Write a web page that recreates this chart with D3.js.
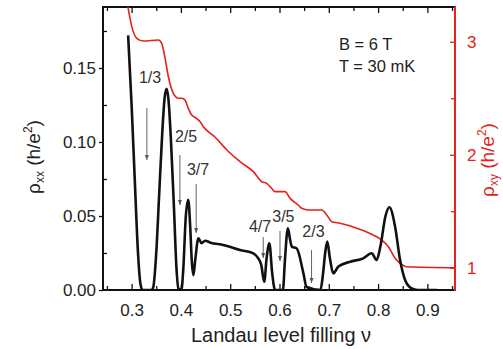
<!DOCTYPE html>
<html lang="en">
<head>
<meta charset="UTF-8">
<title>rho xx and rho xy vs filling</title>
<script src="https://cdn.jsdelivr.net/npm/d3@7"></script>
<style>
  body { margin: 0; background: #fff; }
  svg { display: block; font-family: Arial, "Liberation Sans", sans-serif; }
</style>
</head>
<body>
<script>

var w = 503;
var h = 349;
var margin = {top: 7, right: 48, bottom: 59, left: 103};

// rho_xx (black), filling nu and value in h/e^2
var nuXX = [0.293, 0.300, 0.307, 0.313, 0.318, 0.322, 0.340, 0.344, 0.350, 0.356, 0.362, 0.367, 0.371, 0.375, 0.380, 0.386, 0.391, 0.395, 0.401,
            0.405, 0.410, 0.415, 0.419, 0.422, 0.4254, 0.429, 0.4355, 0.442, 0.449, 0.460, 0.486, 0.520, 0.547, 0.557, 0.563, 0.569,
            0.574, 0.5795, 0.585, 0.591, 0.607, 0.611, 0.617, 0.621, 0.625, 0.635, 0.6485, 0.655, 0.683, 0.688, 0.693, 0.697, 0.702,
            0.709, 0.7195, 0.743, 0.770, 0.787, 0.797, 0.805, 0.815, 0.823, 0.8345, 0.8446, 0.8548, 0.868, 0.880, 0.920];
var rhoXX = [0.172, 0.125, 0.070, 0.025, 0.004, 0.0, 0.0, 0.002, 0.025, 0.065, 0.105, 0.130, 0.136, 0.128, 0.100, 0.055, 0.015, 0.001, 0.0,
             0.015, 0.050, 0.061, 0.042, 0.020, 0.010, 0.020, 0.035, 0.0316, 0.0333, 0.032, 0.0304, 0.027, 0.0248, 0.0214, 0.017, 0.0056,
             0.022, 0.0316, 0.012, 0.0, 0.0, 0.020, 0.0417, 0.035, 0.0293, 0.028, 0.0113, 0.002, 0.0, 0.010, 0.026, 0.0327, 0.022,
             0.0113, 0.0158, 0.0191, 0.0214, 0.0248, 0.0203, 0.030, 0.050, 0.0559, 0.0428, 0.0203, 0.0068, 0.0011, 0.0, 0.0];

// rho_xy (red)
var nuXY = [0.2925, 0.3004, 0.3105, 0.324, 0.3544, 0.361, 0.368, 0.3746, 0.3848, 0.395, 0.402, 0.4085, 0.415, 0.422, 0.4288, 0.439, 0.4456,
            0.469, 0.4937, 0.520, 0.547, 0.564, 0.574, 0.584, 0.591, 0.611, 0.6215, 0.638, 0.645, 0.6586, 0.686, 0.696, 0.706, 0.723,
            0.7568, 0.790, 0.8075, 0.821, 0.8345, 0.8446, 0.858, 0.956];
var rhoXY = [3.31, 3.133, 3.03, 3.006, 3.015, 2.986, 2.853, 2.69, 2.543, 2.50, 2.50, 2.484, 2.41, 2.351, 2.33, 2.292, 2.248,
             2.157, 2.04, 1.938, 1.85, 1.761, 1.747, 1.703, 1.673, 1.673, 1.614, 1.555, 1.526, 1.511, 1.511, 1.466, 1.407, 1.393,
             1.349, 1.289, 1.245, 1.186, 1.083, 1.039, 1.009, 1.0];

var xTicks = [0.3, 0.4, 0.5, 0.6, 0.7, 0.8, 0.9];
var xMinor = [0.25, 0.35, 0.45, 0.55, 0.65, 0.75, 0.85, 0.95];
var yTicks = [0.00, 0.05, 0.10, 0.15];
var yMinor = [0.025, 0.075, 0.125, 0.175];
var y2Ticks = [1, 2, 3];
var y2Minor = [1.5, 2.5];

// fractions: label, arrow nu, arrow top / tip (rho_xx units), label centre nu and baseline
var fracLabels = ["1/3", "2/5", "3/7", "4/7", "3/5", "2/3"];
var fracNu     = [0.331, 0.398, 0.431, 0.567, 0.601, 0.665];
var fracTop    = [0.123, 0.0912, 0.0716, 0.0358, 0.0399, 0.027];
var fracTip    = [0.0879, 0.0574, 0.0385, 0.0216, 0.0196, 0.0047];
var fracLabNu  = [0.3375, 0.4105, 0.4349, 0.5606, 0.6079, 0.6688];
var fracLabY   = [0.1396, 0.1002, 0.0777, 0.0394, 0.0462, 0.036];

var conditions = ["B = 6 T", "T = 30 mK"];

var red = "#e3221c";

var x = d3.scaleLinear().domain([0.242, 0.956]).range([margin.left, w - margin.right]);
var y = d3.scaleLinear().domain([0, 0.1912]).range([h - margin.bottom, margin.top]);
var y2 = d3.scaleLinear().domain([0.803, 3.307]).range([h - margin.bottom, margin.top]);

var svg = d3.select("body").append("svg").attr("width", w).attr("height", h);

svg.append("clipPath").attr("id", "plotclip")
    .append("rect")
    .attr("x", margin.left).attr("y", margin.top)
    .attr("width", w - margin.left - margin.right)
    .attr("height", h - margin.top - margin.bottom);

// bottom axis: labels + inward ticks
var axB = svg.append("g").attr("transform", "translate(0," + (h - margin.bottom) + ")");
axB.call(d3.axisBottom(x).tickValues(xTicks).tickFormat(d3.format(".1f")).tickSize(-6).tickPadding(14))
    .call(g => g.select(".domain").remove());
axB.selectAll(".tick text").attr("font-size", 17).attr("fill", "#222");
axB.selectAll(".tick line").attr("stroke", "#111").attr("stroke-width", 1.3);
axB.append("g").call(d3.axisBottom(x).tickValues(xMinor).tickFormat("").tickSize(-4))
    .call(g => g.select(".domain").remove())
    .selectAll("line").attr("stroke", "#111").attr("stroke-width", 1.3);

// top axis ticks
var axT = svg.append("g").attr("transform", "translate(0," + margin.top + ")");
axT.call(d3.axisTop(x).tickValues(xTicks).tickFormat("").tickSize(-6))
    .call(g => g.select(".domain").remove())
    .selectAll("line").attr("stroke", "#111").attr("stroke-width", 1.3);
axT.append("g").call(d3.axisTop(x).tickValues(xMinor).tickFormat("").tickSize(-4))
    .call(g => g.select(".domain").remove())
    .selectAll("line").attr("stroke", "#111").attr("stroke-width", 1.3);

// left axis
var axL = svg.append("g").attr("transform", "translate(" + margin.left + ",0)");
axL.call(d3.axisLeft(y).tickValues(yTicks).tickFormat(d3.format(".2f")).tickSize(4).tickPadding(3))
    .call(g => g.select(".domain").remove());
axL.selectAll(".tick text").attr("font-size", 17).attr("fill", "#222");
axL.selectAll(".tick line").attr("stroke", "#111").attr("stroke-width", 1.3);
axL.append("g").call(d3.axisLeft(y).tickValues(yMinor).tickFormat("").tickSize(-4))
    .call(g => g.select(".domain").remove())
    .selectAll("line").attr("stroke", "#111").attr("stroke-width", 1.3);

// right axis (red)
var axR = svg.append("g").attr("transform", "translate(" + (w - margin.right) + ",0)");
axR.call(d3.axisRight(y2).tickValues(y2Ticks).tickFormat(d3.format("d")).tickSize(-5).tickPadding(12))
    .call(g => g.select(".domain").remove());
axR.selectAll(".tick text").attr("font-size", 17).attr("fill", red);
axR.selectAll(".tick line").attr("stroke", red).attr("stroke-width", 1.3);
axR.append("g").call(d3.axisRight(y2).tickValues(y2Minor).tickFormat("").tickSize(-4))
    .call(g => g.select(".domain").remove())
    .selectAll("line").attr("stroke", red).attr("stroke-width", 1.3);

// frame
var x0 = margin.left, x1 = w - margin.right, yT = margin.top, yB = h - margin.bottom;
svg.append("path")
    .attr("d", "M" + x1 + "," + yT + "H" + x0 + "V" + yB + "H" + x1)
    .attr("fill", "none").attr("stroke", "#111").attr("stroke-width", 2);
svg.append("line")
    .attr("x1", x1).attr("x2", x1).attr("y1", yT - 1).attr("y2", yB + 1)
    .attr("stroke", red).attr("stroke-width", 2);

// curves
var plot = svg.append("g").attr("clip-path", "url(#plotclip)");

var lineXY = d3.line().x(d => x(d[0])).y(d => y2(d[1])).curve(d3.curveMonotoneX);
plot.append("path")
    .datum(d3.zip(nuXY, rhoXY))
    .attr("d", lineXY)
    .attr("fill", "none").attr("stroke", red).attr("stroke-width", 1.6);

var lineXX = d3.line().x(d => x(d[0])).y(d => y(d[1])).curve(d3.curveMonotoneX);
plot.append("path")
    .datum(d3.zip(nuXX, rhoXX))
    .attr("d", lineXX)
    .attr("fill", "none").attr("stroke", "#111").attr("stroke-width", 2.6)
    .attr("stroke-linejoin", "round");

// arrows and fraction labels
svg.append("defs").append("marker")
    .attr("id", "head")
    .attr("viewBox", "0 0 10 10")
    .attr("refX", 10).attr("refY", 5)
    .attr("markerWidth", 5).attr("markerHeight", 5)
    .attr("orient", "auto")
    .append("path").attr("d", "M0,1L10,5L0,9z").attr("fill", "#555");

var fracs = d3.range(fracLabels.length);
svg.append("g").selectAll("line")
    .data(fracs)
    .enter()
    .append("line")
    .attr("x1", i => x(fracNu[i])).attr("x2", i => x(fracNu[i]))
    .attr("y1", i => y(fracTop[i])).attr("y2", i => y(fracTip[i]))
    .attr("stroke", "#666").attr("stroke-width", 1)
    .attr("marker-end", "url(#head)");

svg.append("g").selectAll("text")
    .data(fracs)
    .enter()
    .append("text")
    .attr("x", i => x(fracLabNu[i]))
    .attr("y", i => y(fracLabY[i]))
    .attr("text-anchor", "middle")
    .attr("font-size", 16)
    .attr("fill", "#333")
    .text(i => fracLabels[i]);

svg.append("g").selectAll("text")
    .data(conditions)
    .enter()
    .append("text")
    .attr("x", 339)
    .attr("y", (d, i) => 50 + i * 21.5)
    .attr("font-size", 16.5)
    .attr("fill", "#222")
    .text(d => d);

// axis titles
svg.append("text")
    .attr("x", (x0 + x1) / 2 + 2)
    .attr("y", 342)
    .attr("text-anchor", "middle")
    .attr("font-size", 20)
    .attr("fill", "#222")
    .text("Landau level filling \u03bd");

var yl = svg.append("text")
    .attr("transform", "translate(40,157) rotate(-90)")
    .attr("text-anchor", "middle")
    .attr("font-size", 19)
    .attr("fill", "#222");
yl.append("tspan").text("\u03c1");
yl.append("tspan").attr("font-size", 12).attr("dy", 4).text("xx");
yl.append("tspan").attr("dy", -4).text(" (h/e");
yl.append("tspan").attr("font-size", 12).attr("dy", -8).text("2");
yl.append("tspan").attr("dy", 8).text(")");

var yr = svg.append("text")
    .attr("transform", "translate(494,160) rotate(-90)")
    .attr("text-anchor", "middle")
    .attr("font-size", 19)
    .attr("fill", red);
yr.append("tspan").text("\u03c1");
yr.append("tspan").attr("font-size", 12).attr("dy", 4).text("xy");
yr.append("tspan").attr("dy", -4).text(" (h/e");
yr.append("tspan").attr("font-size", 12).attr("dy", -8).text("2");
yr.append("tspan").attr("dy", 8).text(")");

</script>
</body>
</html>
